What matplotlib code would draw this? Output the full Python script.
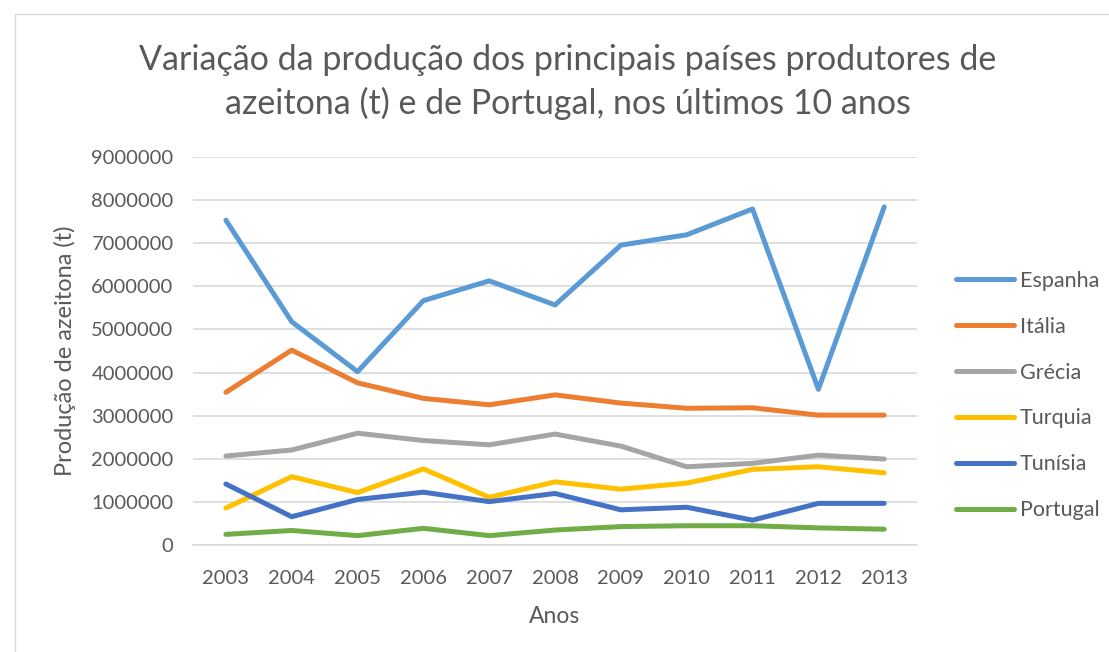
import matplotlib

matplotlib.use("Agg")
import matplotlib.pyplot as plt  # noqa: E402
from matplotlib.patches import Rectangle  # noqa: E402

plt.rcParams["font.family"] = ["Lato", "DejaVu Sans"]

years = [2003, 2004, 2005, 2006, 2007, 2008, 2009, 2010, 2011, 2012, 2013]

espanha = [7540000, 5180000, 4020000, 5670000, 6130000, 5570000,
           6960000, 7200000, 7800000, 3610000, 7850000]
italia = [3540000, 4520000, 3760000, 3400000, 3250000, 3480000,
          3290000, 3170000, 3180000, 3010000, 3010000]
grecia = [2060000, 2200000, 2590000, 2420000, 2320000, 2570000,
          2290000, 1810000, 1890000, 2080000, 1990000]
turquia = [850000, 1580000, 1210000, 1760000, 1100000, 1460000,
           1290000, 1430000, 1750000, 1810000, 1670000]
tunisia = [1410000, 650000, 1050000, 1220000, 1000000, 1190000,
           810000, 870000, 570000, 960000, 960000]
portugal = [240000, 330000, 210000, 380000, 210000, 340000,
            420000, 440000, 440000, 390000, 360000]

series = [
    ("Espanha", espanha, "#5B9BD5"),
    ("Itália", italia, "#ED7D31"),
    ("Grécia", grecia, "#A5A5A5"),
    ("Turquia", turquia, "#FFC000"),
    ("Tunísia", tunisia, "#4472C4"),
    ("Portugal", portugal, "#70AD47"),
]

TEXT = "#595959"

fig = plt.figure(figsize=(11.09, 6.52), dpi=100)
ax = fig.add_axes([0.174, 0.1646, 0.653, 0.5941])

# chart-area frame (cut off at right/bottom in the original)
fig.patches.append(Rectangle((15 / 1109, -0.1), 1.2, 1 - 14 / 652 + 0.1,
                             transform=fig.transFigure, fill=False,
                             edgecolor="#D9D9D9", linewidth=1.0))

for name, vals, color in series:
    ax.plot(years, vals, color=color, linewidth=3.6, label=name,
            solid_capstyle="round", solid_joinstyle="round")

ax.set_xlim(2002.5, 2013.5)
ax.set_ylim(0, 9000000)
ax.set_yticks(range(0, 9000001, 1000000))
ax.set_yticklabels([str(v) for v in range(0, 9000001, 1000000)])
ax.set_xticks(years)
ax.set_xticklabels([str(y) for y in years])
ax.grid(axis="y", color="#D9D9D9", linewidth=1.2)
ax.set_axisbelow(True)
for side in ["top", "right", "left"]:
    ax.spines[side].set_visible(False)
ax.spines["bottom"].set_color("#D9D9D9")
ax.spines["bottom"].set_linewidth(1.2)
ax.tick_params(length=0, labelsize=14.5, colors=TEXT)
ax.tick_params(axis="y", pad=14)
ax.tick_params(axis="x", pad=18)

ax.set_xlabel("Anos", fontsize=16.5, color=TEXT, labelpad=14)
ax.set_ylabel("Produção de azeitona (t)", fontsize=17, color=TEXT, labelpad=11)

fig.text(0.512, 0.874,
         "Variação da produção dos principais países produtores de\n"
         "azeitona (t) e de Portugal, nos últimos 10 anos",
         ha="center", va="center", fontsize=24.5, color=TEXT,
         linespacing=1.4)

ax.legend(loc="center left", bbox_to_anchor=(1.027, 0.385), frameon=False,
          fontsize=15.5, labelcolor=TEXT, handlelength=2.7, handletextpad=0.25,
          labelspacing=1.2)

fig.savefig("out.png", dpi=100)
